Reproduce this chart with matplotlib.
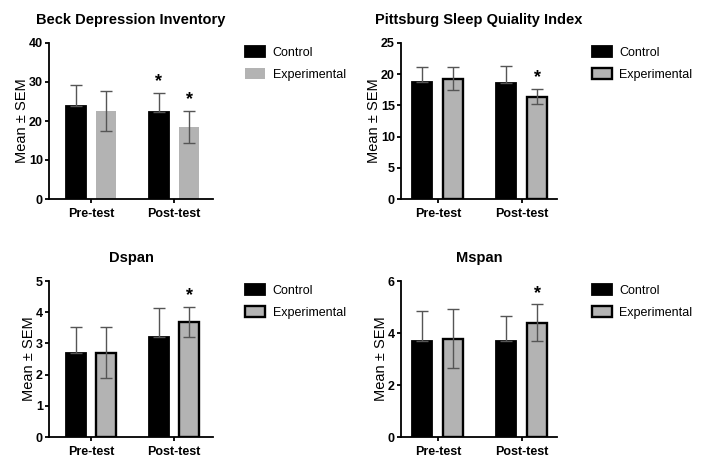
import matplotlib
matplotlib.use("Agg")
import matplotlib.pyplot as plt
from matplotlib.patches import Patch

plt.rcParams['font.family'] = ['Liberation Sans', 'DejaVu Sans']

groups = ['Pre-test', 'Post-test']
legend_labels = ['Control', 'Experimental']

# each panel: control mean / upper err, experimental mean / upper err / lower err
titles = ['Beck Depression Inventory', 'Pittsburg Sleep Quiality Index', 'Dspan', 'Mspan']

bdi_control = [23.8, 22.4]
bdi_control_err = [5.4, 4.8]
bdi_exp = [22.6, 18.5]
bdi_exp_up = [5.1, 4.1]
bdi_exp_down = [5.1, 4.2]
bdi_stars = [(1, 'control'), (1, 'exp')]

psqi_control = [18.7, 18.6]
psqi_control_err = [2.4, 2.7]
psqi_exp = [19.3, 16.3]
psqi_exp_up = [1.9, 1.3]
psqi_exp_down = [1.8, 1.1]
psqi_stars = [(1, 'exp')]

dspan_control = [2.70, 3.20]
dspan_control_err = [0.83, 0.92]
dspan_exp = [2.70, 3.70]
dspan_exp_up = [0.83, 0.48]
dspan_exp_down = [0.82, 0.49]
dspan_stars = [(1, 'exp')]

mspan_control = [3.69, 3.69]
mspan_control_err = [1.16, 0.97]
mspan_exp = [3.77, 4.39]
mspan_exp_up = [1.17, 0.71]
mspan_exp_down = [1.12, 0.70]
mspan_stars = [(1, 'exp')]

y_max = [40, 25, 5, 6]
y_step = [10, 5, 1, 2]

panels = [
    (bdi_control, bdi_control_err, bdi_exp, bdi_exp_up, bdi_exp_down, bdi_stars),
    (psqi_control, psqi_control_err, psqi_exp, psqi_exp_up, psqi_exp_down, psqi_stars),
    (dspan_control, dspan_control_err, dspan_exp, dspan_exp_up, dspan_exp_down, dspan_stars),
    (mspan_control, mspan_control_err, mspan_exp, mspan_exp_up, mspan_exp_down, mspan_stars),
]

W, H = 707, 457
fig = plt.figure(figsize=(W / 100, H / 100), dpi=100)

# axes boxes in pixels: left, top, right, bottom
boxes = [(49, 43, 213, 199), (401, 43, 557, 199), (49, 281, 213, 437), (401, 281, 557, 437)]
xlims = [(-0.506, 1.47), (-0.44, 1.42), (-0.506, 1.47), (-0.44, 1.42)]
legend_pos = [(245, 46), (592, 46), (245, 284), (592, 284)]

gray = '#b3b3b3'
err_color = '#555555'
width = 0.24
offset = 0.185

for i, (ctrl, ctrl_err, exp, exp_up, exp_down, stars) in enumerate(panels):
    l, t, r, b = boxes[i]
    ax = fig.add_axes([l / W, 1 - b / H, (r - l) / W, (b - t) / H])
    xs = list(range(len(groups)))
    xc = [x - offset for x in xs]
    xe = [x + offset for x in xs]
    edge = 'none' if i == 0 else 'black'

    ax.bar(xc, ctrl, width, color='black', edgecolor='black', linewidth=1.3, zorder=2)
    ax.bar(xe, exp, width, color=gray, edgecolor=edge, linewidth=1.7, zorder=2)
    ax.errorbar(xc, ctrl, yerr=[[0] * len(ctrl), ctrl_err], fmt='none', ecolor=err_color,
                elinewidth=1.0, capsize=4.5, capthick=1.0, zorder=3)
    ax.errorbar(xe, exp, yerr=[exp_down, exp_up], fmt='none', ecolor=err_color,
                elinewidth=1.0, capsize=4.5, capthick=1.0, zorder=3)

    for g, which in stars:
        if which == 'control':
            x, top = xc[g], ctrl[g] + ctrl_err[g]
        else:
            x, top = xe[g], exp[g] + exp_up[g]
        ax.annotate('*', (x, top), xytext=(0, 2), textcoords='offset points',
                    ha='center', va='bottom', fontsize=13, fontweight='bold')

    ax.set_xlim(*xlims[i])
    ax.set_ylim(0, y_max[i])
    ax.set_yticks(range(0, y_max[i] + 1, y_step[i]))
    ax.set_xticks(xs)
    ax.set_xticklabels(groups)
    for lab in ax.get_xticklabels() + ax.get_yticklabels():
        lab.set_fontweight('bold')
        lab.set_fontsize(9)
    ax.tick_params(axis='both', length=3, width=1.3)
    ax.tick_params(axis='y', pad=1.5)
    ax.tick_params(axis='x', pad=3.5)
    for s in ['top', 'right']:
        ax.spines[s].set_visible(False)
    for s in ['left', 'bottom']:
        ax.spines[s].set_linewidth(1.3)
    ax.set_ylabel('Mean ± SEM', fontsize=10.5, labelpad=0)
    ax.set_title(titles[i], fontsize=10.5, fontweight='bold', pad=14)

    handles = [Patch(facecolor='black', edgecolor='black', linewidth=1.3),
               Patch(facecolor=gray, edgecolor=edge, linewidth=1.7)]
    lx, ly = legend_pos[i]
    ax.legend(handles, legend_labels, loc='upper left', bbox_to_anchor=(lx / W, 1 - ly / H),
              bbox_transform=fig.transFigure, frameon=False, fontsize=9, borderpad=0,
              borderaxespad=0, handlelength=1.6, handleheight=1.0, handletextpad=0.6,
              labelspacing=0.75)

fig.savefig('out.png', dpi=100)
